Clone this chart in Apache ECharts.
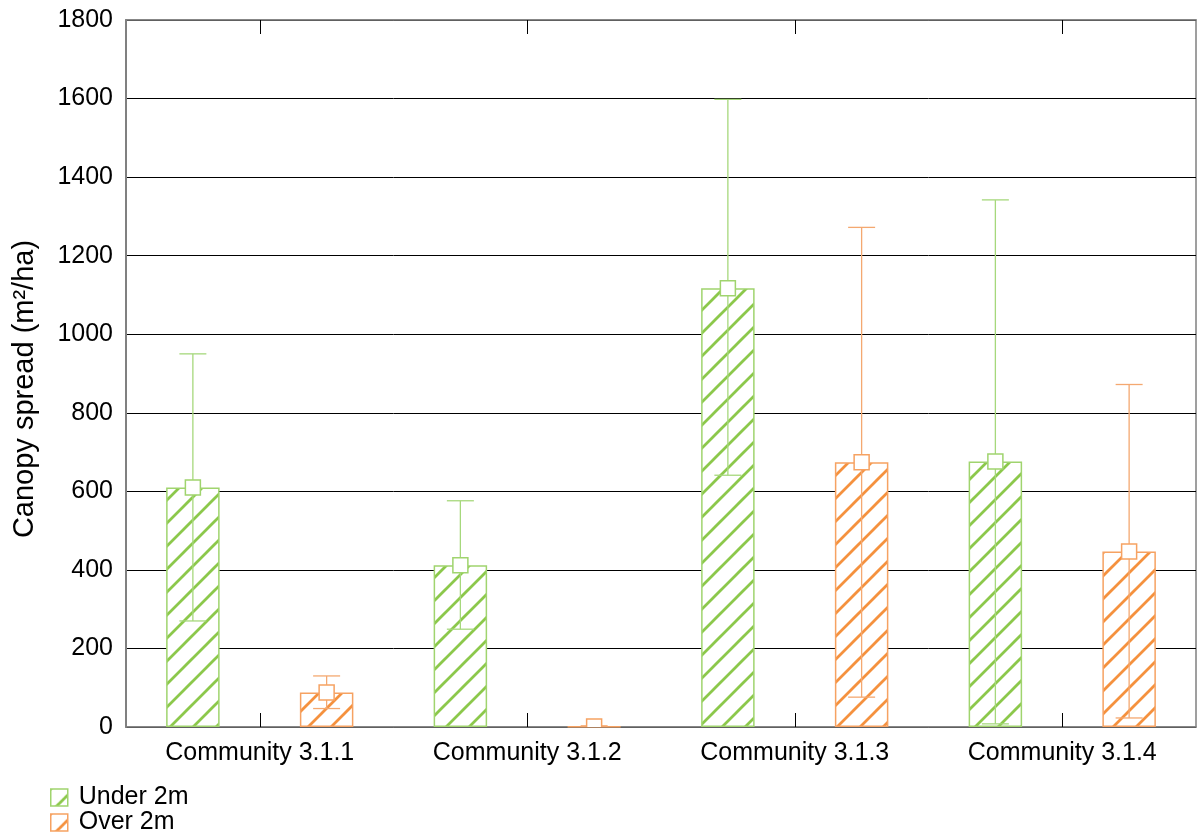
<!DOCTYPE html>
<html>
<head>
<meta charset="utf-8">
<script src="https://cdn.jsdelivr.net/npm/echarts@6/dist/echarts.min.js"></script>
<style>
  html, body { margin: 0; padding: 0; background: #ffffff; }
  #chart { width: 1203px; height: 835px; }
</style>
</head>
<body>
<div id="chart"></div>
<script>
// Canopy spread per community, two height classes (mean with lower/upper range)
const categories = ['Community 3.1.1', 'Community 3.1.2', 'Community 3.1.3', 'Community 3.1.4'];
const seriesNames = ['Under 2m', 'Over 2m'];

const underMean = [610, 412, 1117, 676];
const underLow  = [270, 249, 641, 8];
const underHigh = [950, 576, 1598, 1342];

const overMean = [88, 1, 674, 447];
const overLow  = [47, 0, 76, 23];
const overHigh = [130, 3, 1272, 872];

const yTicks = { min: 0, max: 1800, interval: 200 };

const FONT = '"Liberation Sans", Arial, sans-serif';
const GREEN = { hatch: '#8cc84b', border: '#a0d46e', whisker: '#a6d87c' };
const ORANGE = { hatch: '#f5913e', border: '#f6a262', whisker: '#f4a870' };

// Diagonal "/" hatch tile used as bar fill
function hatchPattern(color) {
  const s = 23;
  const c = document.createElement('canvas');
  c.width = s; c.height = s;
  const g = c.getContext('2d');
  g.fillStyle = '#ffffff';
  g.fillRect(0, 0, s, s);
  g.strokeStyle = color;
  g.lineWidth = 2.8;
  g.beginPath();
  g.moveTo(-3, s + 3); g.lineTo(s + 3, -3);
  g.moveTo(-3, 3); g.lineTo(3, -3);
  g.moveTo(s - 3, s + 3); g.lineTo(s + 3, s - 3);
  g.stroke();
  return { image: c, repeat: 'repeat' };
}

// Rows for the whisker/marker layer: [category index, mean, low, high]
function rangeRows(mean, low, high) {
  return categories.map((_, i) => [i, mean[i], low[i], high[i]]);
}

function rangeSeries(name, rows, offsetFrac, colors) {
  return {
    type: 'custom',
    name: name + ' range',
    z: 5,
    clip: true,
    data: rows,
    encode: { x: 0, y: 1 },
    renderItem: function (params, api) {
      const band = api.size([1, 0])[0];
      const dx = offsetFrac * band;
      const pMean = api.coord([api.value(0), api.value(1)]);
      const pLow = api.coord([api.value(0), api.value(2)]);
      const pHigh = api.coord([api.value(0), api.value(3)]);
      const x = pMean[0] + dx;
      const cap = 13.5;
      const half = 7.5;
      const lineStyle = { stroke: colors.whisker, lineWidth: 1.3, fill: null };
      return {
        type: 'group',
        children: [
          { type: 'line', shape: { x1: x, y1: pLow[1], x2: x, y2: pHigh[1] }, style: lineStyle },
          { type: 'line', shape: { x1: x - cap, y1: pHigh[1], x2: x + cap, y2: pHigh[1] }, style: lineStyle },
          { type: 'line', shape: { x1: x - cap, y1: pLow[1], x2: x + cap, y2: pLow[1] }, style: lineStyle },
          { type: 'rect', shape: { x: x - half, y: pMean[1] - half, width: 2 * half, height: 2 * half },
            style: { fill: '#ffffff', stroke: colors.border, lineWidth: 1.5 } }
        ]
      };
    }
  };
}

const chart = echarts.init(document.getElementById('chart'), null, { renderer: 'canvas' });

const greenFill = hatchPattern(GREEN.hatch);
const orangeFill = hatchPattern(ORANGE.hatch);

chart.setOption({
  animation: false,
  backgroundColor: '#ffffff',
  textStyle: { fontFamily: FONT },
  grid: {
    left: 126, right: 7, top: 20, bottom: 108,
    show: true, borderColor: '#808080', borderWidth: 1.5, backgroundColor: 'transparent'
  },
  legend: {
    data: seriesNames,
    orient: 'vertical',
    left: 50,
    top: 785,
    padding: 0,
    icon: 'rect',
    itemWidth: 17,
    itemHeight: 17,
    itemGap: 0,
    selectedMode: false,
    itemStyle: { borderWidth: 1.5 },
    textStyle: { fontSize: 25, color: '#000000', fontFamily: FONT, padding: [0, 0, 0, 6] }
  },
  xAxis: [
    {
      type: 'category',
      data: categories,
      axisLine: { show: true, lineStyle: { color: '#808080', width: 1.5 } },
      axisTick: { show: true, inside: true, alignWithLabel: true, length: 14, lineStyle: { color: '#000000', width: 1 } },
      axisLabel: { fontSize: 25, color: '#000000', margin: 14, fontFamily: FONT },
      splitLine: { show: false }
    },
    {
      type: 'category',
      data: categories,
      position: 'top',
      axisLine: { show: true, lineStyle: { color: '#808080', width: 1.5 } },
      axisTick: { show: true, inside: true, alignWithLabel: true, length: 14, lineStyle: { color: '#000000', width: 1 } },
      axisLabel: { show: false },
      splitLine: { show: false }
    }
  ],
  yAxis: {
    type: 'value',
    min: yTicks.min,
    max: yTicks.max,
    interval: yTicks.interval,
    axisLine: { show: true, lineStyle: { color: '#808080', width: 2 } },
    axisTick: { show: false },
    axisLabel: { fontSize: 25, color: '#000000', margin: 13, fontFamily: FONT, formatter: v => String(v) },
    splitLine: { show: true, lineStyle: { color: '#000000', width: 1 } }
  },
  graphic: [
    {
      type: 'text',
      x: 25,
      y: 389,
      rotation: Math.PI / 2,
      style: {
        text: 'Canopy spread (m²/ha)',
        fontSize: 29,
        fontFamily: FONT,
        fill: '#000000',
        align: 'center',
        verticalAlign: 'middle'
      }
    }
  ],
  series: [
    {
      type: 'bar',
      name: seriesNames[0],
      data: underMean,
      barWidth: '20%',
      barGap: '150%',
      z: 2,
      itemStyle: { color: greenFill, borderColor: GREEN.border, borderWidth: 1.5 }
    },
    {
      type: 'bar',
      name: seriesNames[1],
      data: overMean,
      barWidth: '20%',
      barGap: '150%',
      z: 2,
      itemStyle: { color: orangeFill, borderColor: ORANGE.border, borderWidth: 1.5 }
    },
    rangeSeries(seriesNames[0], rangeRows(underMean, underLow, underHigh), -0.25, GREEN),
    rangeSeries(seriesNames[1], rangeRows(overMean, overLow, overHigh), 0.25, ORANGE)
  ]
});
</script>
</body>
</html>
